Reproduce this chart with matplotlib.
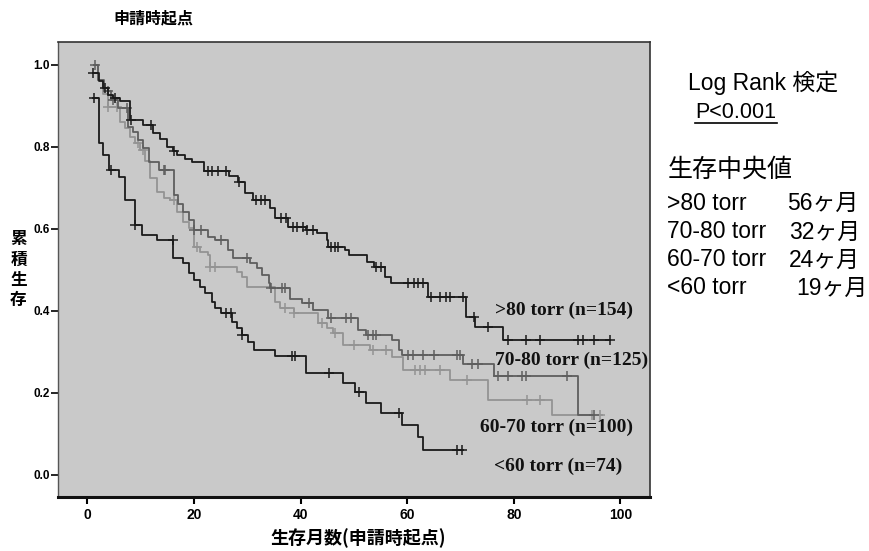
import numpy as np
import matplotlib
matplotlib.use("Agg")
import matplotlib.pyplot as plt

plt.rcParams['font.family'] = ['Noto Sans CJK JP', 'DejaVu Sans']

# === data: step points (time, survival) and censor times per group ===
t_gt80 = [1.0, 2.2, 3.0, 3.9, 4.9, 6.2, 8.1, 10.5, 12.4, 13.6, 15.0, 16.0, 16.9, 18.3,
          19.7, 21.8, 26.5, 28.3, 29.6, 31.0, 34.3, 35.3, 37.7, 41.0, 43.1, 45.0, 45.2,
          48.4, 49.0, 52.5, 53.7, 55.9, 56.9, 64.0, 71.0, 72.8, 78.0]
s_gt80 = [0.98, 0.96, 0.944, 0.927, 0.92, 0.912, 0.866, 0.853, 0.834, 0.82, 0.80, 0.79,
          0.78, 0.77, 0.762, 0.74, 0.73, 0.715, 0.688, 0.671, 0.651, 0.627, 0.605, 0.598,
          0.59, 0.573, 0.556, 0.549, 0.537, 0.52, 0.507, 0.483, 0.468, 0.434, 0.385,
          0.361, 0.329]
c_gt80 = [1.0, 3.4, 5.2, 8.2, 12.0, 16.3, 22.6, 23.4, 24.5, 26.0, 28.5, 31.6, 32.5, 33.4,
          36.3, 37.3, 38.5, 39.4, 40.4, 41.3, 42.3, 45.8, 46.4, 47.0, 54.2, 55.1, 60.2,
          61.2, 62.1, 63.0, 64.5, 66.2, 67.2, 68.1, 70.4, 72.5, 75.2, 79.0, 82.2, 85.0,
          92.1, 93.0, 95.0, 98.1]

t_7080 = [1.3, 2.1, 3.2, 4.5, 5.8, 7.7, 8.6, 9.6, 10.5, 11.5, 13.5, 16.2, 17.1, 18.0,
          19.0, 20.0, 22.7, 24.0, 26.3, 27.4, 30.6, 31.9, 32.8, 34.0, 34.3, 38.0, 40.3,
          42.4, 45.2, 50.8, 52.2, 57.2, 58.4, 59.1, 70.4, 76.2, 92.1]
s_7080 = [1.0, 0.963, 0.935, 0.915, 0.895, 0.849, 0.837, 0.817, 0.797, 0.763, 0.744,
          0.683, 0.66, 0.641, 0.622, 0.598, 0.58, 0.573, 0.549, 0.529, 0.517, 0.505, 0.488,
          0.468, 0.456, 0.43, 0.418, 0.402, 0.382, 0.354, 0.341, 0.329, 0.305, 0.293,
          0.27, 0.24, 0.146]
c_7080 = [1.5, 3.8, 4.9, 7.5, 14.3, 14.6, 20.0, 21.3, 25.0, 30.0, 34.5, 36.5, 37.0, 41.5,
          45.8, 48.6, 49.5, 52.7, 53.5, 54.2, 60.2, 61.0, 63.0, 65.0, 69.4, 70.0, 72.2,
          73.2, 77.1, 79.0, 81.6, 82.2, 90.0, 95.0]

t_6070 = [1.3, 2.1, 3.0, 3.9, 6.2, 7.1, 8.1, 9.0, 9.9, 10.8, 11.8, 13.1, 14.3, 15.5,
          16.9, 18.0, 19.0, 20.0, 21.2, 22.7, 23.0, 28.1, 29.0, 30.0, 35.3, 36.2, 38.7,
          43.3, 45.0, 46.0, 48.0, 53.0, 57.2, 59.3, 68.0, 75.2, 87.2]
s_6070 = [1.0, 0.963, 0.93, 0.898, 0.861, 0.846, 0.824, 0.81, 0.793, 0.765, 0.724, 0.69,
          0.676, 0.671, 0.641, 0.617, 0.602, 0.556, 0.544, 0.537, 0.507, 0.495, 0.483,
          0.459, 0.422, 0.407, 0.395, 0.37, 0.358, 0.346, 0.317, 0.305, 0.288, 0.256,
          0.232, 0.183, 0.146]
c_6070 = [3.9, 5.5, 9.5, 10.5, 16.2, 20.5, 23.0, 24.0, 37.0, 38.7, 44.0, 46.5, 50.0,
          53.5, 56.0, 61.5, 62.5, 63.4, 66.2, 71.3, 82.5, 85.0, 94.6, 96.1]

t_lt60 = [1.0, 2.2, 3.0, 4.0, 5.9, 7.1, 9.0, 10.3, 13.1, 16.1, 18.0, 19.0, 20.0, 21.2,
          22.1, 23.4, 24.0, 25.0, 27.2, 28.1, 29.0, 30.2, 31.2, 35.3, 41.1, 48.0, 50.3,
          52.2, 55.0, 59.1, 62.1, 63.0]
s_lt60 = [0.92, 0.81, 0.78, 0.744, 0.727, 0.67, 0.61, 0.585, 0.573, 0.53, 0.517, 0.493,
          0.476, 0.459, 0.443, 0.422, 0.407, 0.394, 0.373, 0.358, 0.342, 0.325, 0.305,
          0.289, 0.248, 0.224, 0.203, 0.175, 0.151, 0.122, 0.093, 0.061]
c_lt60 = [1.3, 4.5, 9.0, 16.0, 26.0, 27.0, 29.0, 38.4, 38.9, 45.4, 51.0, 58.4, 69.4, 70.3]

end_times = [98.1, 95.0, 96.6, 70.5]
labels = [">80 torr (n=154)", "70-80 torr (n=125)", "60-70 torr (n=100)", "<60 torr (n=74)"]
medians = ["56ヶ月", "32ヶ月", "24ヶ月", "19ヶ月"]
median_names = [">80 torr", "70-80 torr", "60-70 torr", "<60 torr"]

groups = [(t_gt80, s_gt80, c_gt80), (t_7080, s_7080, c_7080),
          (t_6070, s_6070, c_6070), (t_lt60, s_lt60, c_lt60)]
colors = ['#1a1a1a', '#5e5e5e', '#939393', '#1a1a1a']

# === figure ===
fig = plt.figure(figsize=(8.69, 5.51), dpi=100)
ax = fig.add_axes([0.0667, 0.098, 0.681, 0.826])
ax.set_facecolor('#c9c9c9')

# draw grey ones first so black sits on top
for i in [2, 1, 3, 0]:
    t, s, c = groups[i]
    tt = np.array(t + [end_times[i]])
    ss = np.array(s + [s[-1]])
    ax.step(tt, ss, where='post', color=colors[i], lw=1.3)
    idx = np.searchsorted(np.array(t), np.array(c), side='right') - 1
    idx = np.clip(idx, 0, len(s) - 1)
    ax.plot(c, np.array(s)[idx], '+', color=colors[i], ms=7.5, mew=1.1)

ax.set_xlim(-5.5, 105.5)
ax.set_ylim(-0.054, 1.056)
ax.set_xticks([0, 20, 40, 60, 80, 100])
ax.set_yticks([0.0, 0.2, 0.4, 0.6, 0.8, 1.0])
ax.set_yticklabels(["0.0", "0.2", "0.4", "0.6", "0.8", "1.0"])
ax.tick_params(axis='y', direction='out', length=5, width=1.2, labelsize=8.5, pad=1)
ax.tick_params(axis='x', direction='out', length=5, width=1.5, labelsize=10, pad=3)
for lab in ax.get_xticklabels() + ax.get_yticklabels():
    lab.set_family(['Liberation Sans Narrow', 'Liberation Sans'])
    lab.set_weight('bold')

ax.spines['bottom'].set_linewidth(2.2)
ax.spines['bottom'].set_color('#111111')
for side in ['top', 'right']:
    ax.spines[side].set_linewidth(1.2)
    ax.spines[side].set_color('#333333')
ax.spines['left'].set_linewidth(1.0)
ax.spines['left'].set_color('#555555')

# curve labels
for (x, y), lab in zip([(76.5, 0.402), (76.5, 0.280), (73.7, 0.115), (76.2, 0.020)], labels):
    ax.text(x, y, lab, fontsize=14, fontweight='bold', family='Liberation Serif',
            va='center', ha='left', color='#111111')

# titles
fig.text(0.130, 0.966, "申請時起点", fontsize=11.5, fontweight='bold', va='center')
for k, ch in enumerate("累積生存"):
    fig.text(0.0213, 1 - (239 + 20.5 * k) / 551, ch, fontsize=12, fontweight='bold',
             va='center', ha='center')
fig.text(0.412, 0.024, "生存月数(申請時起点)", fontsize=13, fontweight='bold',
         va='center', ha='center')

# right side annotation
rfam = ['Liberation Sans', 'Noto Sans CJK JP']
fig.text(0.792, 1 - 83 / 551, "Log Rank 検定", fontsize=16.5, family=rfam, va='center')
fig.text(0.800, 1 - 113 / 551, "P<0.001", fontsize=15.5, family=rfam, va='center')
fig.add_artist(plt.Line2D([0.800, 0.894], [1 - 123 / 551, 1 - 123 / 551],
                          color='black', lw=1.2))
fig.text(0.768, 1 - 170 / 551, "生存中央値", fontsize=18, family=rfam, va='center')
row_y = [203, 232, 260, 288]
med_right = [858, 860, 860, 868]
for y, name, med, mx in zip(row_y, median_names, medians, med_right):
    fig.text(0.768, 1 - y / 551, name, fontsize=16.5, family=rfam, va='center')
    fig.text(mx / 869, 1 - y / 551, med, fontsize=16.5, family=rfam, va='center',
             ha='right')

fig.savefig("out.png", dpi=100, facecolor='white')
